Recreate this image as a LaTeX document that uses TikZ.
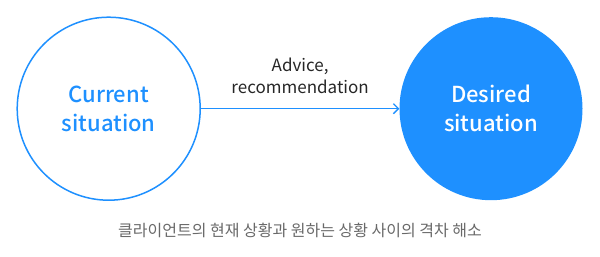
\documentclass[tikz,border=0pt]{standalone}
\usepackage{fontspec}
\setmainfont{Noto Sans CJK KR}
\newfontfamily\mediumfont{Noto Sans CJK KR Medium}
\usepackage{tikz}
\usetikzlibrary{arrows.meta,positioning}

\definecolor{skyblue}{RGB}{30,144,255}
\definecolor{captiongray}{RGB}{105,105,105}

\begin{document}
\begin{tikzpicture}[
  x=1pt, y=1pt,
  situation/.style={circle, minimum size=183pt, inner sep=0pt, align=center,
    font=\mediumfont\fontsize{22}{29}\selectfont},
  arr/.style={-{Straight Barb[length=5pt,width=10pt]}, line width=1.3pt, draw=skyblue}
]
\useasboundingbox (0,0) rectangle (600,-257);

\node[situation, draw=skyblue, line width=1.5pt, text=skyblue] (current) at (108.7,-108.7) {Current\\situation};
\node[situation, fill=skyblue, text=white] (desired) at (491,-108.7) {Desired\\situation};

\draw[arr] (current) -- node[above=14pt, inner sep=0pt, align=center,
  font=\fontsize{17}{22}\selectfont, text=black!85] {Advice,\\recommendation} (desired);

\node[font=\fontsize{16}{18}\selectfont, text=captiongray] (caption) at (300,-230.5)
  {클라이언트의 현재 상황과 원하는 상황 사이의 격차 해소};
\end{tikzpicture}
\end{document}
